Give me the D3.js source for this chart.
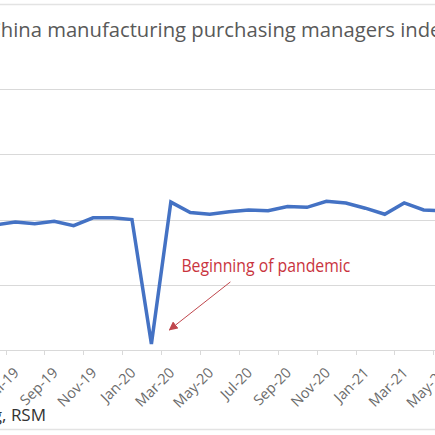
<!DOCTYPE html>
<html>
<head>
<meta charset="utf-8">
<script src="https://cdn.jsdelivr.net/npm/d3@7"></script>
<style>
  html, body { margin: 0; padding: 0; background: #fff; overflow: hidden; }
  svg { display: block; font-family: "Open Sans", sans-serif; }
</style>
</head>
<body>
<div id="chart"></div>
<script>
// China NBS manufacturing PMI
var months = [
  "Jan-19","Feb-19","Mar-19","Apr-19","May-19","Jun-19","Jul-19","Aug-19","Sep-19","Oct-19","Nov-19","Dec-19",
  "Jan-20","Feb-20","Mar-20","Apr-20","May-20","Jun-20","Jul-20","Aug-20","Sep-20","Oct-20","Nov-20","Dec-20",
  "Jan-21","Feb-21","Mar-21","Apr-21","May-21"
];
var pmi = [
  49.5, 49.2, 50.5, 50.1, 49.4, 49.4, 49.7, 49.5, 49.8, 49.3, 50.2, 50.2,
  50.0, 35.7, 52.0, 50.8, 50.6, 50.9, 51.1, 51.0, 51.5, 51.4, 52.1, 51.9,
  51.3, 50.6, 51.9, 51.1, 51.0
];
var yTicks = [35, 42.5, 50, 57.5, 65];
var title = "China manufacturing purchasing managers index";
var source = "Source: Bloomberg, RSM";
var note = "Beginning of pandemic";
var noteMonth = "Feb-20";

var chart = {};
chart.w = 435;
chart.h = 435;
// the picture is a crop of a wider chart, so the plot runs past the edges
chart.plot = { left: -111.1, right: 452.8, top: 89, bottom: 350 };

chart.svg = d3.select("#chart")
  .append("svg")
  .attr("width", chart.w)
  .attr("height", chart.h);

chart.x = d3.scaleBand()
  .domain(months)
  .range([chart.plot.left, chart.plot.right]);

chart.y = d3.scaleLinear()
  .domain([35, 65])
  .range([chart.plot.bottom, chart.plot.top]);

var cx = function(m) { return chart.x(m) + chart.x.bandwidth() / 2; };

// outer chart border (only top and bottom are in view)
chart.svg.append("line")
  .attr("x1", 0).attr("x2", chart.w)
  .attr("y1", 4.5).attr("y2", 4.5)
  .style("stroke", "#e3e3e3").style("stroke-width", 1.5);
chart.svg.append("line")
  .attr("x1", 0).attr("x2", chart.w)
  .attr("y1", 429.5).attr("y2", 429.5)
  .style("stroke", "#e3e3e3").style("stroke-width", 1.5);

// title
chart.svg.append("text")
  .attr("x", -12)
  .attr("y", 37)
  .attr("textLength", 464)
  .attr("lengthAdjust", "spacingAndGlyphs")
  .style("font-size", "20px")
  .style("fill", "#595959")
  .text(title);

// gridlines
chart.svg.append("g")
  .attr("class", "grid")
  .selectAll("line")
  .data(yTicks)
  .enter().append("line")
    .attr("x1", chart.plot.left)
    .attr("x2", chart.plot.right)
    .attr("y1", function(d) { return Math.round(chart.y(d)) + 0.5; })
    .attr("y2", function(d) { return Math.round(chart.y(d)) + 0.5; })
    .style("stroke", "#d9d9d9")
    .style("stroke-width", 1);

// x axis: ticks at category boundaries every two months, labels at centres
var labelMonths = months.filter(function(d, i) { return i % 2 === 0; });

var xAxis = chart.svg.append("g").attr("class", "x-axis");

xAxis.selectAll("line.tick")
  .data(labelMonths)
  .enter().append("line")
    .attr("class", "tick")
    .attr("x1", function(d) { return Math.round(chart.x(d)) + 0.5; })
    .attr("x2", function(d) { return Math.round(chart.x(d)) + 0.5; })
    .attr("y1", chart.plot.bottom)
    .attr("y2", chart.plot.bottom + 5)
    .style("stroke", "#d9d9d9")
    .style("stroke-width", 1);

xAxis.selectAll("text")
  .data(labelMonths)
  .enter().append("text")
    .attr("transform", function(d) {
      return "translate(" + (cx(d) + 1) + "," + (chart.plot.bottom + 20) + ") rotate(-45)";
    })
    .attr("text-anchor", "end")
    .attr("dy", "0.35em")
    .style("font-size", "14.5px")
    .style("fill", "#6b6b6b")
    .text(function(d) { return d; });

// the series
var line = d3.line()
  .x(function(d, i) { return cx(months[i]); })
  .y(function(d) { return chart.y(d); });

chart.svg.append("path")
  .datum(pmi)
  .attr("d", line)
  .style("fill", "none")
  .style("stroke", "#4472c4")
  .style("stroke-width", 3.5)
  .style("stroke-linejoin", "miter");

// annotation
var low = pmi[months.indexOf(noteMonth)];
var tip = [cx(noteMonth) + 18, chart.y(low) - 14];
var tail = [tip[0] + 61, tip[1] - 48];

chart.svg.append("defs").append("marker")
  .attr("id", "head")
  .attr("viewBox", "0 0 10 10")
  .attr("refX", 9).attr("refY", 5)
  .attr("markerWidth", 9).attr("markerHeight", 9)
  .attr("markerUnits", "userSpaceOnUse")
  .attr("orient", "auto")
  .append("path")
    .attr("d", "M0,0 L10,5 L0,10 z")
    .style("fill", "#c0474d");

chart.svg.append("line")
  .attr("x1", tail[0]).attr("y1", tail[1])
  .attr("x2", tip[0]).attr("y2", tip[1])
  .attr("marker-end", "url(#head)")
  .style("stroke", "#c0474d")
  .style("stroke-width", 1);

chart.svg.append("text")
  .attr("x", tip[0] + 12)
  .attr("y", tail[1] - 10)
  .attr("textLength", 169)
  .attr("lengthAdjust", "spacingAndGlyphs")
  .style("font-size", "18px")
  .style("fill", "#c9343e")
  .text(note);

// source line, cut at the left edge
chart.svg.append("text")
  .attr("x", 46)
  .attr("y", 421)
  .attr("text-anchor", "end")
  .style("font-size", "17px")
  .style("fill", "#333")
  .text(source);
</script>
</body>
</html>
